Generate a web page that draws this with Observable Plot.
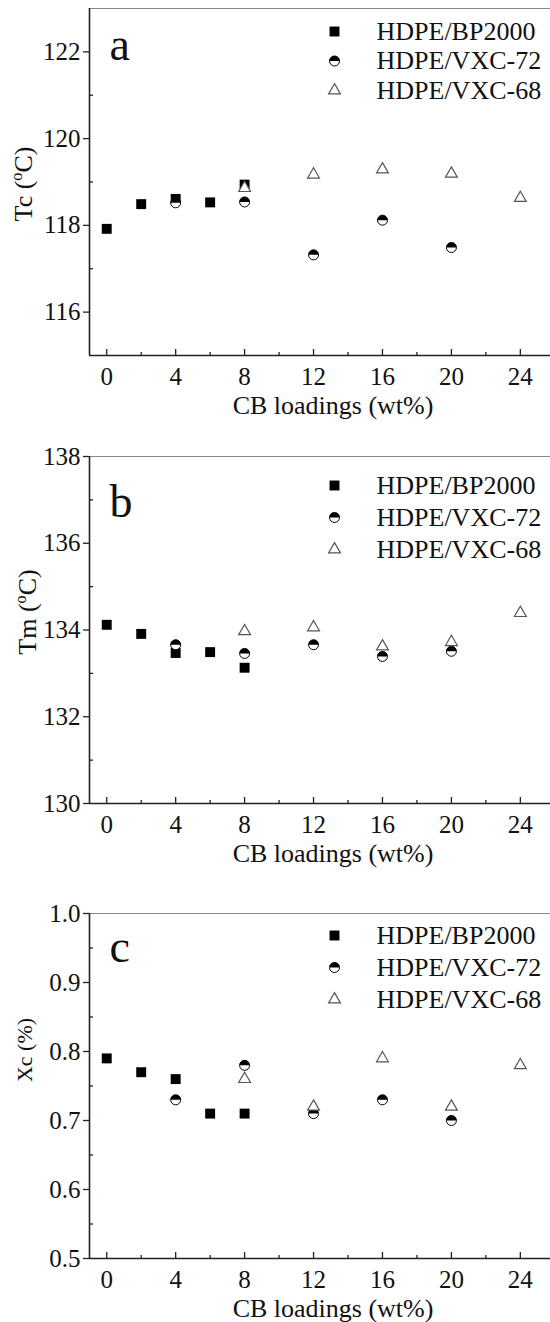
<!DOCTYPE html>
<html><head><meta charset="utf-8">
<script src="https://cdn.jsdelivr.net/npm/d3@7"></script>
<script src="https://cdn.jsdelivr.net/npm/@observablehq/plot@0.6"></script>
<style>
html,body{margin:0;padding:0;background:#fff;overflow:hidden}
#chart svg{display:block}
</style></head><body><div id="chart"></div>
<script>
// ---- data ----
const seriesNames = ["HDPE/BP2000", "HDPE/VXC-72", "HDPE/VXC-68"];
const bpX = [0, 2, 4, 6, 8];
const vxc72X = [4, 8, 12, 16, 20];
const vxc68X = [8, 12, 16, 20, 24];
const tcBP = [117.92, 118.49, 118.61, 118.53, 118.94];
const tcV72 = [118.52, 118.54, 117.32, 118.12, 117.49];
const tcV68 = [118.86, 119.17, 119.29, 119.19, 118.63];
const tmBP = [134.12, 133.91, 133.47, 133.49, 133.13];
const tmV72 = [133.66, 133.46, 133.66, 133.39, 133.51];
const tmV68 = [133.97, 134.06, 133.62, 133.72, 134.39];
const xcBP = [0.79, 0.77, 0.76, 0.71, 0.71];
const xcV72 = [0.73, 0.78, 0.71, 0.73, 0.70];
const xcV68 = [0.76, 0.72, 0.79, 0.72, 0.78];
const xTicks = [0, 4, 8, 12, 16, 20, 24];
const xMinor = [2, 6, 10, 14, 18, 22];
const xLabel = "CB loadings (wt%)";
const tcTicks = [116, 118, 120, 122], tcMinor = [117, 119, 121];
const tmTicks = [130, 132, 134, 136, 138], tmMinor = [131, 133, 135, 137];
const xcTicks = [0.5, 0.6, 0.7, 0.8, 0.9, 1.0], xcMinor = [0.55, 0.65, 0.75, 0.85, 0.95];

const FONT = "'Liberation Serif', 'Times New Roman', serif";
const INK = "#222";

const halfTop = {draw(ctx, size) {
  const r = Math.sqrt(size / Math.PI);
  ctx.moveTo(r, 0); ctx.arc(0, 0, r, 0, Math.PI, true); ctx.closePath();
}};

function pts(xs, ys) { return xs.map((x, i) => ({x, y: ys[i]})); }

const symbolMarks = [
  (data, o) => [Plot.dot(data, {...o, symbol: "square", r: 5.6, fill: "black"})],
  (data, o) => [Plot.dot(data, {...o, symbol: "circle", r: 5, fill: "white", stroke: "black", strokeWidth: 1}),
                Plot.dot(data, {...o, symbol: halfTop, r: 5, fill: "black"})],
  (data, o) => [Plot.dot(data, {...o, symbol: "triangle", r: 4.4, fill: "white", stroke: "#555", strokeWidth: 1.2})]
];

const panels = [
  {tag: "a", yl: ["Tc (", "o", "C)"], ylSize: 26, ylX: 32, ylY: 184, domain: [115, 123], ticks: tcTicks, minor: tcMinor, fmt: d3.format("d"),
   series: [pts(bpX, tcBP), pts(vxc72X, tcV72), pts(vxc68X, tcV68)],
   height: 440, mt: 8, mb: 85, tagDy: 37, legDy: 23, legSp: 29.5},
  {tag: "b", yl: ["Tm (", "o", "C)"], ylSize: 26, ylX: 36, ylY: 172, domain: [130, 138], ticks: tmTicks, minor: tmMinor, fmt: d3.format("d"),
   series: [pts(bpX, tmBP), pts(vxc72X, tmV72), pts(vxc68X, tmV68)],
   height: 440, mt: 16, mb: 77, tagDy: 46, legDy: 29, legSp: 32},
  {tag: "c", yl: ["Xc (%)"], ylSize: 22, ylX: 32, ylY: 170, domain: [0.5, 1.0], ticks: xcTicks, minor: xcMinor, fmt: d3.format(".1f"),
   series: [pts(bpX, xcBP), pts(vxc72X, xcV72), pts(vxc68X, xcV68)],
   height: 442, mt: 33, mb: 64, tagDy: 34, legDy: 22, legSp: 32}
];

const chart = document.getElementById("chart");
for (const p of panels) {
  const marks = [];
  // axes
  marks.push(Plot.axisX({ticks: xTicks, tickSize: -6, text: null, label: null, stroke: INK, strokeWidth: 1.3}));
  marks.push(Plot.axisX({ticks: xMinor, tickSize: -3, text: null, label: null, stroke: INK, strokeWidth: 1.3}));
  marks.push(Plot.axisX({ticks: xTicks, tickSize: 0, tickPadding: 12, label: null, fontSize: 25, fill: "#111"}));
  marks.push(Plot.axisY({ticks: p.ticks, tickSize: 6, text: null, label: null, stroke: INK, strokeWidth: 1.3}));
  marks.push(Plot.axisY({ticks: p.minor, tickSize: -4, text: null, label: null, stroke: INK, strokeWidth: 1.3}));
  marks.push(Plot.axisY({ticks: p.ticks, tickSize: 0, tickPadding: 9, tickFormat: p.fmt, label: null, fontSize: 25, fill: "#111"}));
  marks.push(Plot.ruleY([p.domain[1]], {stroke: "#888", strokeWidth: 1}));
  marks.push(Plot.ruleY([p.domain[0]], {stroke: INK, strokeWidth: 1.6}));
  marks.push(Plot.ruleX([-1], {stroke: INK, strokeWidth: 1.6}));
  // data
  p.series.forEach((s, i) => marks.push(...symbolMarks[i](s, {x: "x", y: "y"})));
  // legend
  seriesNames.forEach((name, i) => {
    marks.push(...symbolMarks[i]([name], {frameAnchor: "top-left", dx: 245, dy: p.legDy + i * p.legSp}));
    marks.push(Plot.text([name], {frameAnchor: "top-left", dx: 287, dy: p.legDy + i * p.legSp, text: d => d,
      textAnchor: "start", lineAnchor: "middle", fontSize: 26, fill: "#111"}));
  });
  // panel tag
  marks.push(Plot.text([p.tag], {frameAnchor: "top-left", dx: 20, dy: p.tagDy, text: d => d, textAnchor: "start",
    lineAnchor: "middle", fontSize: 46, fill: "#111"}));
  // x label
  marks.push(Plot.text([xLabel], {frameAnchor: "bottom", dx: 13, dy: 50, text: d => d, lineAnchor: "middle", fontSize: 26, fill: "#111"}));

  const svg = Plot.plot({
    width: 550, height: p.height,
    marginLeft: 89, marginRight: 0, marginTop: p.mt, marginBottom: p.mb,
    style: {fontFamily: FONT, background: "white", color: "#111", overflow: "visible"},
    x: {domain: [-1, 25.75]},
    y: {domain: p.domain},
    marks
  });
  // rotated y label with superscript
  const t = d3.select(svg).append("text")
    .attr("transform", `translate(${p.ylX},${p.ylY}) rotate(-90)`)
    .attr("text-anchor", "middle").attr("font-family", FONT).attr("font-size", p.ylSize).attr("fill", "#111");
  if (p.yl.length === 3) {
    t.append("tspan").text(p.yl[0]);
    t.append("tspan").attr("font-size", p.ylSize * 0.62).attr("dy", -p.ylSize * 0.38).text(p.yl[1]);
    t.append("tspan").attr("dy", p.ylSize * 0.38).text(p.yl[2]);
  } else {
    t.text(p.yl[0]);
  }
  chart.appendChild(svg);
}
</script></body></html>
